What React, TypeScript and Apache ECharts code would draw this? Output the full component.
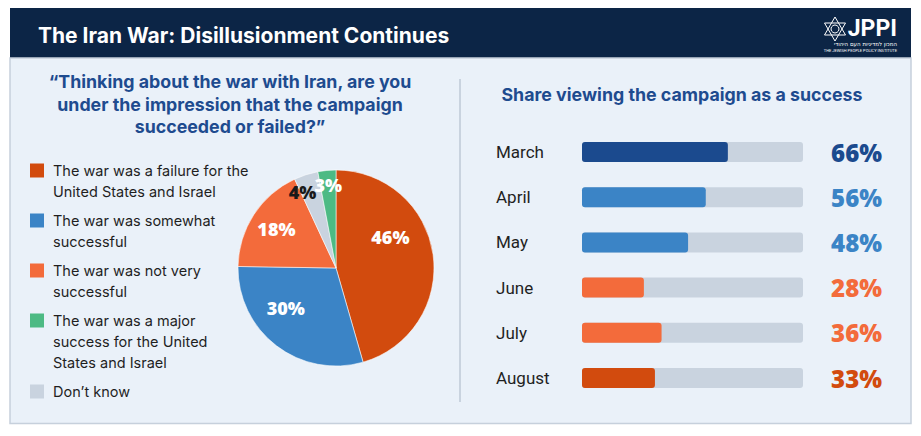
import React, { useEffect, useRef } from 'react';
import * as echarts from 'echarts';

// ---------- data ----------
const pieNames = [
  'The war was a failure for the United States and Israel',
  'The war was somewhat successful',
  'The war was not very successful',
  'Don’t know',
  'The war was a major success for the United States and Israel',
];
const pieValues = [46, 30, 18, 4, 3];
const legendOrder = [0, 1, 2, 4, 3];
const legendLines = [
  ['The war was a failure for the', 'United States and Israel'],
  ['The war was somewhat', 'successful'],
  ['The war was not very', 'successful'],
  ['Don’t know'],
  ['The war was a major', 'success for the United', 'States and Israel'],
];

const months = ['March', 'April', 'May', 'June', 'July', 'August'];
const shareValues = [66, 56, 48, 28, 36, 33];
const shareLabels = ['66%', '56%', '48%', '28%', '36%', '33%'];

// ---------- styles ----------
const pieColors = ['#d24b0e', '#3b84c6', '#f36b3b', '#c9d3df', '#4dba84'];
const pieLabelColors = ['#ffffff', '#ffffff', '#ffffff', '#1a1a1a', '#ffffff'];
const barColors = ['#1b4a8e', '#3b84c6', '#3b84c6', '#f36b3b', '#f36b3b', '#d24b0e'];
const NAVY = '#0c2546';
const BODY = '#eaf1f9';
const TRACK = '#c9d3df';
const TITLE_BLUE = '#1e4b8f';
const TEXT = '#1f1f1f';
const SANS = 'Roboto, "Noto Sans", sans-serif';
const HEAD = 'Inter, Roboto, sans-serif';
const NUM = '"Open Sans", Lato, sans-serif';

const PIE_CENTER = [336, 268];

function labelPie(show: number[], radius: number[], nudges: Record<number, { dx: number; dy: number }>) {
  return {
    type: 'pie',
    center: PIE_CENTER,
    radius,
    startAngle: 90,
    silent: true,
    z: 5,
    legendHoverLink: false,
    emphasis: { disabled: true },
    itemStyle: { color: 'rgba(0,0,0,0)', borderWidth: 0 },
    labelLine: { show: false },
    label: {
      show: true,
      position: 'inside',
      formatter: '{c}%',
      fontFamily: NUM,
      fontSize: 18,
      fontWeight: 800,
      textBorderWidth: 0,
    },
    labelLayout: (p: any) => nudges[p.dataIndex] || {},
    data: pieValues.map((v, i) => ({
      value: v,
      name: pieNames[i],
      label: { show: show.includes(i), color: pieLabelColors[i] },
    })),
  };
}

export default function App() {
  const ref = useRef<HTMLDivElement>(null);

  useEffect(() => {
    if (!ref.current) return;
    const chart = echarts.init(ref.current, undefined, { renderer: 'svg' });

    const rich: Record<string, any> = {
      t: { fontFamily: HEAD, fontSize: 14.5, lineHeight: 21, color: TEXT },
      g: { width: 9, height: 14 },
      i: { width: 23, height: 14 },
    };
    pieColors.forEach((c, k) => {
      rich['s' + k] = { width: 14, height: 14, backgroundColor: c, fontSize: 10 };
    });

    const option: any = {
      animation: false,
      backgroundColor: '#ffffff',
      graphic: [
        { type: 'rect', z: -10, silent: true, shape: { x: 10, y: 8, width: 901, height: 50 }, style: { fill: NAVY } },
        {
          type: 'rect', z: -10, silent: true,
          shape: { x: 10, y: 58, width: 901, height: 365.5 },
          style: { fill: BODY, stroke: '#c6d0dc', lineWidth: 1.5 },
        },
        { type: 'line', z: -9, silent: true, shape: { x1: 460, y1: 79, x2: 460, y2: 402 }, style: { stroke: TRACK, lineWidth: 2 } },
        {
          type: 'text', x: 38, y: 35, silent: true,
          style: { text: 'The Iran War: Disillusionment Continues', fill: '#ffffff', fontFamily: HEAD, fontSize: 21, fontWeight: 700, align: 'left', verticalAlign: 'middle' },
        },
        {
          type: 'text', x: 230, y: 104, silent: true,
          style: {
            text: '“Thinking about the war with Iran, are you\nunder the impression that the campaign\nsucceeded or failed?”',
            fill: TITLE_BLUE, fontFamily: HEAD, fontSize: 17.8, fontWeight: 700, lineHeight: 22.5, align: 'center', verticalAlign: 'middle',
          },
        },
        {
          type: 'text', x: 682, y: 94, silent: true,
          style: { text: 'Share viewing the campaign as a success', fill: TITLE_BLUE, fontFamily: HEAD, fontSize: 17.8, fontWeight: 700, align: 'center', verticalAlign: 'middle' },
        },
        // logo
        {
          type: 'group', silent: true,
          children: [
            { type: 'polygon', shape: { points: [[835, 17], [845.5, 35], [824.5, 35]] }, style: { fill: 'none', stroke: '#ffffff', lineWidth: 1 } },
            { type: 'polygon', shape: { points: [[835, 41], [845.5, 23], [824.5, 23]] }, style: { fill: 'none', stroke: '#ffffff', lineWidth: 1 } },
            { type: 'circle', shape: { cx: 835, cy: 29, r: 4 }, style: { fill: 'none', stroke: '#ffffff', lineWidth: 1 } },
            { type: 'text', x: 897, y: 28.5, style: { text: 'JPPI', fill: '#ffffff', fontFamily: SANS, fontSize: 23, lineHeight: 20, fontWeight: 700, align: 'right', verticalAlign: 'middle' } },
            { type: 'text', x: 897, y: 44, style: { text: 'המכון למדיניות העם היהודי', fill: '#ffffff', fontFamily: '"DejaVu Sans", sans-serif', fontSize: 5.5, lineHeight: 5.5, align: 'right', verticalAlign: 'middle' } },
            { type: 'text', x: 897, y: 50, style: { text: 'THE JEWISH PEOPLE POLICY INSTITUTE', fill: '#ffffff', fontFamily: SANS, fontSize: 4, lineHeight: 4, align: 'right', verticalAlign: 'middle' } },
          ],
        },
      ],
      legend: {
        orient: 'vertical',
        left: 23,
        top: 160,
        padding: 0,
        itemGap: 8,
        itemWidth: 1,
        itemHeight: 1,
        icon: 'rect',
        itemStyle: { opacity: 0, color: 'rgba(0,0,0,0)' },
        selectedMode: false,
        data: legendOrder.map((k) => pieNames[k]),
        formatter: (name: string) => {
          const k = pieNames.indexOf(name);
          return legendLines[k]
            .map((line, j) => (j === 0 ? `{s${k}| }{g| }{t|${line}}` : `{i| }{t|${line}}`))
            .join('\n');
        },
        textStyle: { fontFamily: HEAD, fontSize: 14.5, lineHeight: 21, color: TEXT, rich },
      },
      grid: { left: 582, width: 221, top: 129.4, height: 271.2, containLabel: false },
      xAxis: { type: 'value', min: 0, max: 100, show: false },
      yAxis: [
        {
          type: 'category',
          data: months,
          inverse: true,
          axisLine: { show: false },
          axisTick: { show: false },
          splitLine: { show: false },
          axisLabel: { align: 'left', margin: 86, fontFamily: SANS, fontSize: 17, color: TEXT },
        },
        {
          type: 'category',
          position: 'right',
          data: shareLabels,
          inverse: true,
          axisLine: { show: false },
          axisTick: { show: false },
          splitLine: { show: false },
          axisLabel: {
            align: 'right',
            margin: 79,
            formatter: (v: string, idx: number) => `{c${idx}|${v}}`,
            rich: Object.fromEntries(
              barColors.map((c, k) => ['c' + k, { color: c, fontFamily: NUM, fontSize: 24, fontWeight: 800 }])
            ),
          },
        },
      ],
      series: [
        {
          type: 'pie',
          center: PIE_CENTER,
          radius: [0, 98],
          startAngle: 90,
          silent: true,
          z: 2,
          label: { show: false },
          labelLine: { show: false },
          emphasis: { disabled: true },
          itemStyle: { borderColor: 'rgba(255,255,255,0.55)', borderWidth: 1 },
          data: pieValues.map((v, i) => ({ value: v, name: pieNames[i], itemStyle: { color: pieColors[i] } })),
        },
        labelPie([0, 1], [40, 80], { 0: { dx: -8, dy: -22 }, 1: { dx: -12, dy: -10 } }),
        labelPie([2], [46, 90], {}),
        labelPie([3, 4], [60, 100], { 3: { dx: -8, dy: 3 } }),
        {
          type: 'bar',
          xAxisIndex: 0,
          yAxisIndex: 0,
          barWidth: 20,
          silent: true,
          showBackground: true,
          backgroundStyle: { color: TRACK, borderRadius: 3 },
          itemStyle: { borderRadius: 3 },
          data: shareValues.map((v, i) => ({ value: v, itemStyle: { color: barColors[i] } })),
        },
      ],
    };

    chart.setOption(option);
    return () => chart.dispose();
  }, []);

  return (
    <div
      ref={ref}
      style={{ position: 'fixed', left: 0, top: 0, width: 921, height: 436 }}
    />
  );
}
